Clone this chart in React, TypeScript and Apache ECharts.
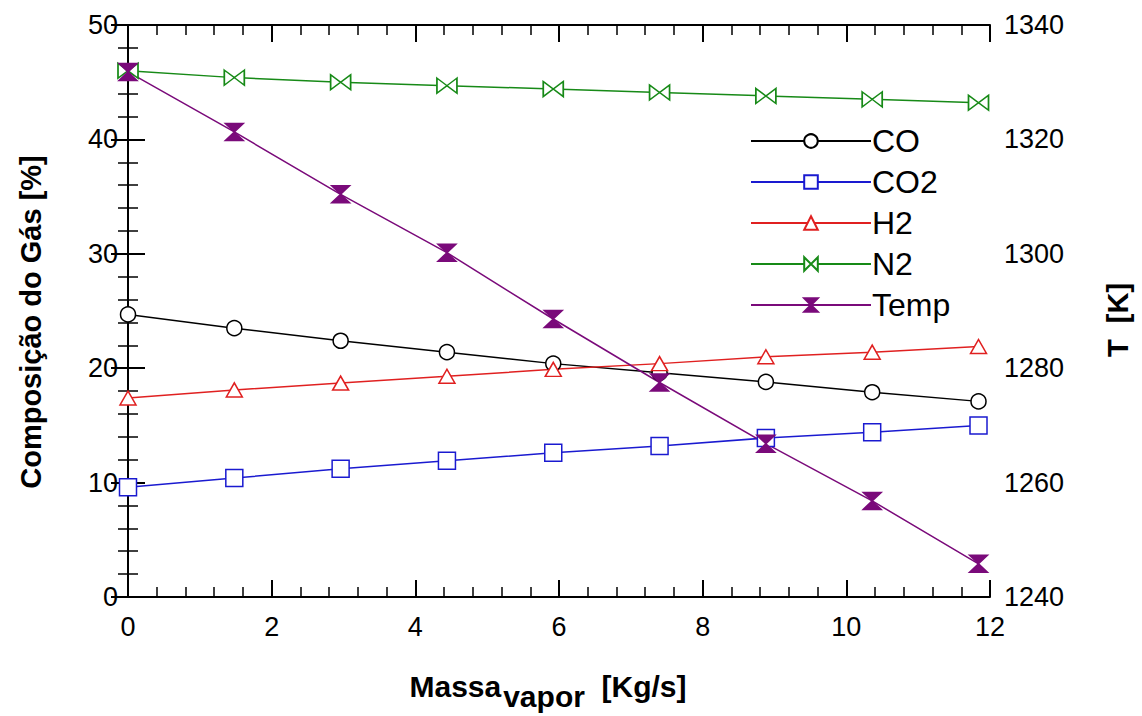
import React, { useEffect, useRef } from "react";
import * as echarts from "echarts";

const massa = [0, 1.48, 2.96, 4.44, 5.92, 7.4, 8.88, 10.36, 11.84];
const co = [24.7, 23.5, 22.4, 21.4, 20.4, 19.6, 18.8, 17.9, 17.1];
const co2 = [9.6, 10.4, 11.2, 11.9, 12.6, 13.2, 13.9, 14.4, 15.0];
const h2 = [17.4, 18.1, 18.7, 19.3, 19.9, 20.4, 21.0, 21.4, 21.9];
const n2 = [46.0, 45.4, 45.0, 44.7, 44.4, 44.1, 43.8, 43.5, 43.2];
const temp = [1331.8, 1321.3, 1310.4, 1300.2, 1288.6, 1277.5, 1266.8, 1256.8, 1245.8];

const xTitle = ["Massa", "vapor", "[Kg/s]"];
const yLeftTitle = "Composição do Gás [%]";
const yRightTitle = "T  [K]";

const FONT = "Liberation Sans, Arial, sans-serif";

const bowtieH = "path://M0,0 L10,5 L0,10 Z M20,0 L10,5 L20,10 Z";
const hourglass = "path://M0,0 L10,0 L5,5 Z M5,5 L10,10 L0,10 Z";

const pair = (ys: number[]) => massa.map((x, i) => [x, ys[i]]);

export default function App() {
  const ref = useRef<HTMLDivElement>(null);
  useEffect(() => {
    document.body.style.margin = "0";
    const chart = echarts.init(ref.current!, null, { renderer: "svg" });
    const axisLine = { show: true, lineStyle: { color: "#000", width: 2 } };
    const tick = { show: true, inside: true, length: 17, lineStyle: { color: "#000", width: 2 } };
    const minor = { show: true, splitNumber: 5, length: 10, lineStyle: { color: "#000", width: 1.5 } };
    const label = { color: "#000", fontSize: 27, fontFamily: FONT };
    const lineSeries = (name: string, data: number[][], color: string, symbol: string, size: any, filled: boolean, yAxisIndex = 0) => ({
      name,
      type: "line",
      data,
      yAxisIndex,
      symbol,
      symbolSize: size,
      showAllSymbol: true,
      lineStyle: { color, width: 1.5 },
      itemStyle: { color: filled ? color : "#fff", borderColor: color, borderWidth: 1.5 },
      emphasis: { disabled: true },
      z: 3,
    });
    const titleFont = { fontSize: 29, fontWeight: "bold", fontFamily: FONT, fill: "#000" };
    chart.setOption({
      animation: false,
      backgroundColor: "#fff",
      grid: { left: 128, right: 152, top: 25, bottom: 116, containLabel: false },
      legend: {
        orient: "vertical",
        left: 745,
        top: 120,
        itemWidth: 120,
        itemHeight: 17,
        itemGap: 9,
        textStyle: { color: "#000", fontSize: 32, fontFamily: FONT, padding: [0, 0, 0, -4] },
        data: ["CO", "CO2", "H2", "N2", "Temp"],
        selectedMode: false,
      },
      graphic: [
        {
          type: "text",
          x: 31,
          y: 322,
          rotation: Math.PI / 2,
          style: { text: yLeftTitle, align: "center", verticalAlign: "middle", ...titleFont },
        },
        {
          type: "text",
          x: 1118,
          y: 320,
          rotation: Math.PI / 2,
          style: { text: yRightTitle, align: "center", verticalAlign: "middle", ...titleFont },
        },
      ],
      xAxis: [
        {
          type: "value",
          min: 0,
          max: 12,
          interval: 2,
          axisLine,
          axisTick: tick,
          minorTick: minor,
          splitLine: { show: false },
          axisLabel: { ...label, margin: 16 },
          name: `{a|${xTitle[0]}}{b|${xTitle[1]}}{a|  ${xTitle[2]}}`,
          nameLocation: "middle",
          nameGap: 72,
          nameTextStyle: {
            padding: [0, 22, 0, 0],
            rich: {
              a: { fontSize: 30, fontWeight: "bold", fontFamily: FONT, color: "#000", verticalAlign: "bottom", lineHeight: 32 },
              b: { fontSize: 30, fontWeight: "bold", fontFamily: FONT, color: "#000", verticalAlign: "bottom", lineHeight: 32, padding: [0, 0, -10, 2] },
            },
          },
        },
        {
          type: "value",
          position: "top",
          min: 0,
          max: 12,
          interval: 2,
          axisLine,
          axisTick: tick,
          minorTick: minor,
          splitLine: { show: false },
          axisLabel: { show: false },
        },
      ],
      yAxis: [
        {
          type: "value",
          min: 0,
          max: 50,
          interval: 10,
          axisLine,
          axisTick: tick,
          minorTick: minor,
          splitLine: { show: false },
          axisLabel: { ...label, margin: 10 },
        },
        {
          type: "value",
          position: "right",
          min: 1240,
          max: 1340,
          interval: 20,
          axisLine,
          axisTick: tick,
          minorTick: minor,
          splitLine: { show: false },
          axisLabel: { ...label, margin: 14, formatter: (v: number) => String(v) },
        },
      ],
      series: [
        lineSeries("CO", pair(co), "#000000", "circle", 15, false),
        lineSeries("CO2", pair(co2), "#1a1ad0", "rect", 17, false),
        lineSeries("H2", pair(h2), "#e02020", "triangle", [16, 14], false),
        lineSeries("N2", pair(n2), "#178a17", bowtieH, [20, 15], false),
        lineSeries("Temp", pair(temp), "#7a0a7a", hourglass, [18, 17], true, 1),
      ],
    });
    return () => chart.dispose();
  }, []);
  return <div ref={ref} style={{ width: 1142, height: 716 }} />;
}
